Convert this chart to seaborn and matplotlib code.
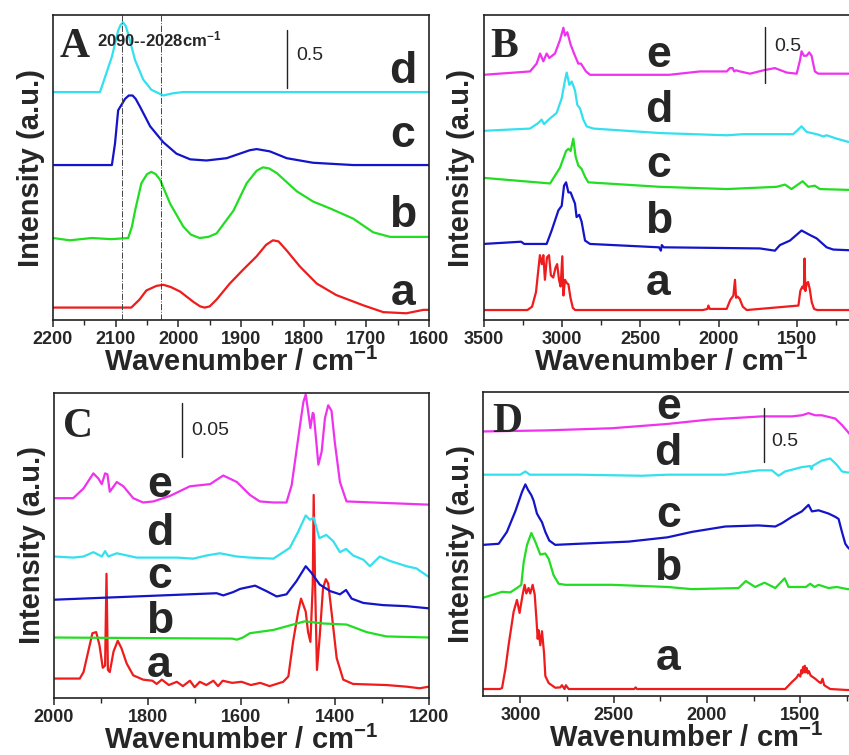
import matplotlib
matplotlib.use("Agg")
import matplotlib.pyplot as plt
import seaborn as sns
from matplotlib.ticker import MultipleLocator

sns.set_style("ticks")
plt.rcParams['font.family'] = ['Liberation Sans', 'DejaVu Sans']
plt.rcParams['font.weight'] = 'bold'
plt.rcParams['mathtext.fontset'] = 'custom'
plt.rcParams['mathtext.rm'] = 'Liberation Sans:bold'
plt.rcParams['mathtext.it'] = 'Liberation Sans:bold'
plt.rcParams['mathtext.bf'] = 'Liberation Sans:bold'
plt.rcParams['mathtext.default'] = 'bf'

RED, GREEN, BLUE, CYAN, MAGENTA = '#ee1c1c', '#22dd22', '#1414c8', '#33e0ee', '#ee33ee'

# ---------------- panel A: 2200-1600 cm-1 ----------------
A_a_x = [2200, 2075, 2062, 2051, 2035, 2024, 2012, 1997, 1976, 1965, 1958, 1950, 1939, 1918, 1897, 1875, 1860, 1849, 1840,
         1827, 1806, 1779, 1748, 1705, 1673, 1636, 1609, 1600]
A_a_y = [0.11, 0.11, 0.18, 0.26, 0.30, 0.31, 0.29, 0.25, 0.16, 0.12, 0.11, 0.12, 0.18, 0.32, 0.44, 0.56, 0.66, 0.70, 0.69,
         0.61, 0.47, 0.32, 0.22, 0.13, 0.07, 0.06, 0.09, 0.09]
A_b_x = [2200, 2173, 2138, 2107, 2080, 2074, 2069, 2059, 2050, 2043, 2036, 2029, 2013, 1992, 1980, 1966, 1952, 1939, 1912,
         1891, 1875, 1865, 1855, 1843, 1811, 1785, 1758, 1721, 1689, 1662, 1600]
A_b_y = [0.72, 0.70, 0.72, 0.71, 0.72, 0.82, 0.96, 1.20, 1.28, 1.30, 1.28, 1.23, 1.02, 0.82, 0.75, 0.72, 0.73, 0.76, 0.96,
         1.20, 1.31, 1.34, 1.33, 1.29, 1.13, 1.04, 0.98, 0.89, 0.77, 0.73, 0.73]
A_c_x = [2200, 2106, 2101, 2096, 2085, 2079, 2073, 2068, 2061, 2045, 2024, 2003, 1981, 1955, 1923, 1886, 1875, 1854, 1827,
         1785, 1721, 1652, 1600]
A_c_y = [1.36, 1.36, 1.55, 1.84, 1.94, 1.97, 1.97, 1.94, 1.87, 1.70, 1.56, 1.46, 1.41, 1.40, 1.42, 1.49, 1.50, 1.48, 1.42,
         1.38, 1.36, 1.36, 1.36]
A_d_x = [2200, 2125, 2117, 2106, 2096, 2092, 2088, 2084, 2080, 2069, 2056, 2043, 2024, 2008, 1992, 1600]
A_d_y = [2.00, 2.00, 2.13, 2.31, 2.54, 2.59, 2.61, 2.58, 2.51, 2.28, 2.11, 2.02, 1.97, 1.99, 2.00, 2.00]
A_marks = [2090, 2028]

# ---------------- panel B: 3500-1100 cm-1 ----------------
B_a_x = [3500, 3220, 3190, 3165, 3150, 3140, 3128, 3118, 3108, 3095, 3082, 3070, 3055, 3040, 3030, 3018, 3008, 2997, 2990, 2980,
         2968, 2958, 2945, 2930, 2915, 2100, 2070, 2065, 2055, 1948, 1925, 1905, 1895, 1888, 1878, 1865, 1845, 1820,
         1490, 1478, 1465, 1455, 1451, 1446, 1436, 1428, 1418, 1405, 1390, 1370, 1100]
B_a_y = [0.09, 0.09, 0.12, 0.25, 0.45, 0.58, 0.50, 0.58, 0.36, 0.56, 0.58, 0.40, 0.38, 0.47, 0.50, 0.36, 0.30, 0.57, 0.22, 0.36,
         0.33, 0.32, 0.20, 0.11, 0.09, 0.09, 0.10, 0.13, 0.10, 0.10, 0.18, 0.22, 0.36, 0.20, 0.21, 0.19, 0.12, 0.09,
         0.13, 0.26, 0.30, 0.28, 0.55, 0.26, 0.33, 0.34, 0.28, 0.16, 0.10, 0.09, 0.09]
B_b_x = [3500, 3260, 3240, 3097, 3065, 3022, 3001, 2986, 2973, 2958, 2944, 2933, 2916, 2906, 2889, 2874, 2852, 2820, 2380, 2368,
         2362, 2350, 1736, 1640, 1608, 1544, 1470, 1417, 1374, 1310, 1268, 1100]
B_b_y = [0.68, 0.70, 0.68, 0.68, 0.80, 0.98, 1.02, 1.20, 1.23, 1.14, 1.14, 1.10, 1.04, 0.92, 0.94, 0.88, 0.71, 0.68, 0.65, 0.62,
         0.67, 0.65, 0.64, 0.62, 0.67, 0.71, 0.80, 0.76, 0.73, 0.65, 0.63, 0.62]
B_c_x = [3500, 3075, 3012, 2973, 2958, 2944, 2927, 2912, 2895, 2874, 2852, 2831, 2374, 1948, 1629, 1576, 1534, 1463, 1427, 1385, 1353, 1100]
B_c_y = [1.27, 1.22, 1.36, 1.51, 1.53, 1.51, 1.62, 1.46, 1.38, 1.35, 1.28, 1.23, 1.19, 1.17, 1.19, 1.21, 1.17, 1.24, 1.19, 1.20, 1.17, 1.16]
B_d_x = [3500, 3203, 3150, 3129, 3114, 3076, 3033, 3001, 2980, 2969, 2952, 2937, 2916, 2901, 2884, 2863, 2842, 2799, 2374, 1948,
         1842, 1672, 1523, 1470, 1438, 1374, 1331, 1310, 1246, 1168, 1100]
B_d_y = [1.69, 1.71, 1.76, 1.79, 1.75, 1.80, 1.85, 1.98, 2.14, 2.21, 2.10, 2.13, 2.05, 1.92, 1.89, 1.79, 1.73, 1.71, 1.67, 1.65,
         1.66, 1.66, 1.66, 1.73, 1.68, 1.66, 1.64, 1.65, 1.62, 1.59, 1.57]
B_e_x = [3500, 3203, 3161, 3139, 3118, 3097, 3080, 3044, 3012, 2990, 2980, 2965, 2944, 2922, 2895, 2878, 2846, 2820, 2315, 2118,
         1948, 1927, 1910, 1900, 1889, 1863, 1799, 1714, 1640, 1565, 1501, 1480, 1470, 1455, 1438, 1421, 1406, 1385, 1363, 1100]
B_e_y = [2.19, 2.22, 2.29, 2.38, 2.31, 2.38, 2.34, 2.38, 2.50, 2.61, 2.54, 2.57, 2.46, 2.38, 2.29, 2.29, 2.22, 2.19, 2.19, 2.22,
         2.22, 2.25, 2.25, 2.22, 2.23, 2.22, 2.20, 2.23, 2.25, 2.21, 2.20, 2.32, 2.40, 2.36, 2.36, 2.39, 2.36, 2.22, 2.20, 2.20]

# ---------------- panel C: 2000-1200 cm-1 ----------------
C_a_x = [2000, 1945, 1937, 1927, 1918, 1910, 1903, 1896, 1891, 1888, 1885, 1881, 1873, 1864, 1856, 1845, 1831, 1810, 1790, 1781,
         1770, 1755, 1738, 1725, 1710, 1700, 1689, 1675, 1660, 1650, 1640, 1620, 1600, 1580, 1560, 1540, 1511, 1500, 1490, 1479,
         1473, 1468, 1463, 1458, 1453, 1448, 1446, 1443, 1439, 1433, 1426, 1420, 1415, 1408, 1397, 1383, 1362, 1291, 1248, 1220, 1200]
C_a_y = [0.018, 0.018, 0.024, 0.043, 0.060, 0.061, 0.049, 0.028, 0.030, 0.115, 0.026, 0.024, 0.043, 0.053, 0.046, 0.032, 0.021, 0.017, 0.016, 0.013,
         0.017, 0.012, 0.015, 0.011, 0.016, 0.010, 0.015, 0.012, 0.016, 0.011, 0.016, 0.014, 0.015, 0.012, 0.014, 0.011, 0.015, 0.020, 0.052, 0.080,
         0.092, 0.086, 0.080, 0.061, 0.052, 0.105, 0.188, 0.105, 0.026, 0.058, 0.102, 0.110, 0.106, 0.080, 0.037, 0.017, 0.013, 0.012, 0.0105, 0.009, 0.0105]
C_b_x = [2000, 1620, 1610, 1597, 1582, 1532, 1490, 1465, 1426, 1376, 1333, 1291, 1200]
C_b_y = [0.056, 0.055, 0.054, 0.056, 0.060, 0.063, 0.068, 0.071, 0.069, 0.068, 0.061, 0.057, 0.056]
C_c_x = [2000, 1653, 1639, 1618, 1603, 1571, 1547, 1525, 1504, 1483, 1463, 1451, 1433, 1411, 1390, 1377, 1365, 1340, 1298, 1248, 1200]
C_c_y = [0.091, 0.097, 0.095, 0.098, 0.101, 0.104, 0.099, 0.094, 0.096, 0.108, 0.122, 0.116, 0.105, 0.099, 0.096, 0.100, 0.092, 0.088, 0.086, 0.085, 0.083]
C_d_x = [2000, 1959, 1937, 1916, 1898, 1891, 1884, 1866, 1824, 1781, 1738, 1703, 1674, 1646, 1610, 1582, 1532, 1497, 1479, 1463,
         1454, 1446, 1434, 1419, 1404, 1390, 1377, 1362, 1340, 1326, 1305, 1284, 1248, 1227, 1200]
C_d_y = [0.131, 0.130, 0.131, 0.135, 0.131, 0.136, 0.131, 0.134, 0.130, 0.130, 0.130, 0.129, 0.132, 0.134, 0.131, 0.130, 0.129, 0.139, 0.154, 0.169,
         0.165, 0.167, 0.148, 0.151, 0.145, 0.135, 0.138, 0.132, 0.128, 0.122, 0.131, 0.127, 0.122, 0.120, 0.112]
C_e_x = [2000, 1959, 1937, 1916, 1905, 1898, 1891, 1886, 1881, 1866, 1852, 1831, 1810, 1788, 1753, 1710, 1667, 1639, 1610, 1582,
         1561, 1532, 1504, 1493, 1483, 1475, 1468, 1463, 1458, 1453, 1448, 1446, 1441, 1436, 1429, 1422, 1415, 1408, 1401, 1390,
         1376, 1319, 1200]
C_e_y = [0.185, 0.185, 0.194, 0.208, 0.203, 0.198, 0.208, 0.207, 0.191, 0.200, 0.196, 0.185, 0.181, 0.182, 0.187, 0.196, 0.198, 0.206, 0.200, 0.188,
         0.182, 0.181, 0.181, 0.197, 0.228, 0.253, 0.274, 0.281, 0.266, 0.250, 0.264, 0.263, 0.240, 0.216, 0.228, 0.259, 0.271, 0.266, 0.237, 0.200,
         0.182, 0.181, 0.179]

# ---------------- panel D: 3200-1025 cm-1 ----------------
D_a_x = [3200, 3110, 3098, 3080, 3063, 3036, 3018, 3004, 2988, 2977, 2968, 2956, 2947, 2934, 2923, 2914, 2907, 2902, 2893, 2884,
         2873, 2866, 2848, 2813, 2786, 2777, 2763, 2756, 2741, 2390, 2382, 2375, 1581, 1545, 1520, 1510, 1500, 1495, 1490, 1485,
         1480, 1476, 1472, 1466, 1460, 1454, 1445, 1420, 1400, 1390, 1381, 1372, 1340, 1250, 1200]
D_a_y = [0.065, 0.065, 0.074, 0.25, 0.47, 0.78, 0.89, 0.77, 0.935, 1.03, 0.95, 1.00, 0.95, 1.03, 0.94, 0.72, 0.53, 0.61, 0.47, 0.60,
         0.40, 0.185, 0.12, 0.077, 0.08, 0.10, 0.065, 0.10, 0.065, 0.065, 0.08, 0.065, 0.065, 0.13, 0.17, 0.20, 0.18, 0.24, 0.21, 0.27,
         0.22, 0.28, 0.22, 0.26, 0.21, 0.23, 0.19, 0.16, 0.13, 0.12, 0.16, 0.10, 0.065, 0.056, 0.056]
D_b_x = [3200, 3152, 3098, 3054, 3018, 2995, 2982, 2964, 2941, 2920, 2893, 2866, 2848, 2822, 2795, 2759, 2509, 2211, 2081, 1831,
         1792, 1742, 1692, 1634, 1584, 1563, 1470, 1447, 1424, 1402, 1349, 1304, 1247, 1200]
D_b_y = [0.91, 0.935, 0.965, 0.96, 1.00, 1.03, 1.24, 1.40, 1.51, 1.43, 1.31, 1.32, 1.27, 1.12, 1.04, 1.03, 1.03, 1.01, 0.99, 1.00,
         1.065, 1.01, 1.05, 1.00, 1.09, 1.01, 1.01, 1.04, 1.01, 1.03, 1.00, 1.01, 0.99, 0.99]
D_c_x = [3200, 3116, 3072, 3027, 2991, 2973, 2959, 2941, 2929, 2911, 2898, 2884, 2866, 2845, 2813, 2688, 2420, 2211, 2081, 1902,
         1724, 1634, 1599, 1545, 1492, 1456, 1438, 1402, 1349, 1313, 1295, 1277, 1259, 1247, 1200]
D_c_y = [1.40, 1.41, 1.52, 1.71, 1.89, 1.96, 1.91, 1.86, 1.81, 1.69, 1.65, 1.61, 1.52, 1.44, 1.40, 1.41, 1.43, 1.47, 1.52, 1.57,
         1.58, 1.57, 1.60, 1.66, 1.71, 1.77, 1.71, 1.72, 1.69, 1.66, 1.64, 1.52, 1.41, 1.38, 1.30]
D_d_x = [3200, 3000, 2973, 2950, 2688, 2349, 2211, 1902, 1724, 1652, 1617, 1581, 1492, 1447, 1440, 1435, 1385, 1340, 1304, 1277, 1247, 1200]
D_d_y = [2.05, 2.05, 2.08, 2.05, 2.05, 2.04, 2.05, 2.05, 2.09, 2.09, 2.04, 2.08, 2.12, 2.13, 2.10, 2.13, 2.18, 2.20, 2.14, 2.08, 2.07, 2.07]
D_e_x = [3200, 2866, 2509, 2211, 1991, 1706, 1545, 1492, 1456, 1420, 1385, 1313, 1277, 1247, 1200]
D_e_y = [2.45, 2.46, 2.48, 2.52, 2.56, 2.59, 2.59, 2.60, 2.62, 2.60, 2.60, 2.57, 2.51, 2.45, 2.35]

fig = plt.figure(figsize=(8.49, 7.55), dpi=100)


def panel(rect, xlim, ylim, major, minor, curves, letter, letter_xy, labels, label_x, label_ys,
          bar_x, bar_y, bar_text, bar_text_xy):
    ax = fig.add_axes(rect)
    for x, y, c in curves:
        sns.lineplot(x=x, y=y, sort=False, estimator=None, color=c, linewidth=1.6, ax=ax)
    ax.set_xlim(*xlim)
    ax.set_ylim(*ylim)
    ax.xaxis.set_major_locator(MultipleLocator(major))
    ax.xaxis.set_minor_locator(MultipleLocator(minor))
    ax.set_yticks([])
    ax.tick_params(axis='x', which='major', direction='out', length=5, width=1.1, labelsize=13, pad=3)
    ax.tick_params(axis='x', which='minor', direction='out', length=3.5, width=1.0)
    for s in ax.spines.values():
        s.set_linewidth(1.2)
        s.set_color('#222222')
    ax.set_xlabel('Wavenumber / cm$^{-1}$', fontsize=21, fontweight='bold', labelpad=0)
    ax.set_ylabel('Intensity (a.u.)', fontsize=21, fontweight='bold', labelpad=6)
    ax.text(letter_xy[0], letter_xy[1], letter, transform=ax.transAxes, fontsize=30,
            family='Liberation Serif', fontweight='bold', ha='left', va='baseline')
    for lab, ly in zip(labels, label_ys):
        ax.text(label_x, ly, lab, transform=ax.transAxes, fontsize=32, fontweight='bold',
                ha='center', va='baseline')
    ax.plot([bar_x, bar_x], bar_y, color='#222222', linewidth=1.0)
    ax.text(bar_text_xy[0], bar_text_xy[1], bar_text, transform=ax.transAxes, fontsize=14,
            fontweight='normal', ha='left', va='baseline')
    return ax


axA = panel([0.0624, 0.576, 0.4429, 0.404], (2200, 1600), (0, 2.675), 100, 50,
            [(A_a_x, A_a_y, RED), (A_b_x, A_b_y, GREEN), (A_c_x, A_c_y, BLUE), (A_d_x, A_d_y, CYAN)],
            'A', (0.019, 0.862), ['d', 'c', 'b', 'a'], 0.931, [0.777, 0.568, 0.306, 0.049],
            1827, [2.04, 2.54], '0.5', (0.646, 0.852))
for m in A_marks:
    axA.axvline(m, color='#444444', linewidth=0.7, linestyle='-.')
axA.text(0.117, 0.898, '2090--2028cm$^{-1}$', transform=axA.transAxes, fontsize=12,
         fontweight='bold', ha='left', va='baseline')

panel([0.5695, 0.576, 0.4429, 0.404], (3500, 1100), (0, 2.723), 500, 250,
      [(B_a_x, B_a_y, RED), (B_b_x, B_b_y, BLUE), (B_c_x, B_c_y, GREEN), (B_d_x, B_d_y, CYAN), (B_e_x, B_e_y, MAGENTA)],
      'B', (0.017, 0.863), ['e', 'd', 'c', 'b', 'a'], 0.465, [0.830, 0.650, 0.470, 0.284, 0.082],
      1704, [2.12, 2.62], '0.5', (0.773, 0.883))

panel([0.0636, 0.0755, 0.4417, 0.404], (2000, 1200), (0, 2824e-4), 200, 100,
      [(C_a_x, C_a_y, RED), (C_b_x, C_b_y, GREEN), (C_c_x, C_c_y, BLUE), (C_d_x, C_d_y, CYAN), (C_e_x, C_e_y, MAGENTA)],
      'C', (0.024, 0.857), ['e', 'd', 'c', 'b', 'a'], 0.281, [0.660, 0.502, 0.360, 0.212, 0.070],
      1727, [0.223, 0.273], '0.05', (0.367, 0.862))

panel([0.5689, 0.0781, 0.4782, 0.4026], (3200, 1025), (0, 2.815), 500, 250,
      [(D_a_x, D_a_y, RED), (D_b_x, D_b_y, GREEN), (D_c_x, D_c_y, BLUE), (D_d_x, D_d_y, CYAN), (D_e_x, D_e_y, MAGENTA)],
      'D', (0.022, 0.869), ['e', 'd', 'c', 'b', 'a'], 0.456, [0.913, 0.760, 0.557, 0.382, 0.086],
      1697, [2.17, 2.67], '0.5', (0.711, 0.822))

fig.savefig('out.png', dpi=100)
